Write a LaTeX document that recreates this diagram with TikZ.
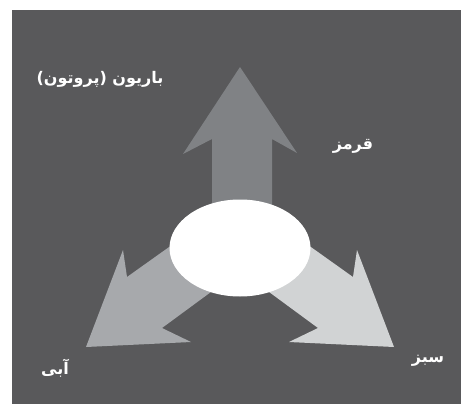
\documentclass[tikz,border=0pt]{standalone}
\usepackage{fontspec}
\newfontfamily\arabicfont[Script=Arabic]{DejaVu Sans}
\TeXXeTstate=1
\usetikzlibrary{shapes.geometric}
\definecolor{bgdark}{RGB}{89,89,91}
\definecolor{redarrow}{RGB}{128,130,133}
\definecolor{bluearrow}{RGB}{167,169,172}
\definecolor{greenarrow}{RGB}{209,211,212}
\tikzset{
  lbl/.style={text=white, font=\arabicfont\bfseries\fontsize{16}{18}\selectfont, inner sep=0pt}
}
\begin{document}
\begin{tikzpicture}[x=1pt,y=-1pt]
\useasboundingbox (0,0) rectangle (461,404);
\fill[white] (0,0) rectangle (461,404);
\fill[bgdark] (12,10) rectangle (461,404);
% up arrow (red)
\fill[redarrow] (212,240) -- (212,139) -- (183,154) -- (240,67) -- (297,153) -- (272,139) -- (272,240) -- cycle;
% left arrow (blue)
\fill[bluearrow] (200,225) -- (127,277) -- (123,250) -- (86,347) -- (191,342) -- (162,328) -- (230,278) -- cycle;
% right arrow (green)
\fill[greenarrow] (280,225) -- (353,277) -- (357,250) -- (394,347) -- (289,342) -- (318,328) -- (250,278) -- cycle;
% core
\node[ellipse, fill=white, minimum width=141pt, minimum height=97pt, inner sep=0pt] (core) at (240,248) {};
% labels
\node[lbl] (baryon) at (100,79) {\beginR باریون (پروتون)\endR};
\node[lbl] (red) at (353,146) {\beginR قرمز\endR};
\node[lbl] (blue) at (55,368) {\beginR آبی\endR};
\node[lbl] (green) at (428,361) {\beginR سبز\endR};
\end{tikzpicture}
\end{document}
